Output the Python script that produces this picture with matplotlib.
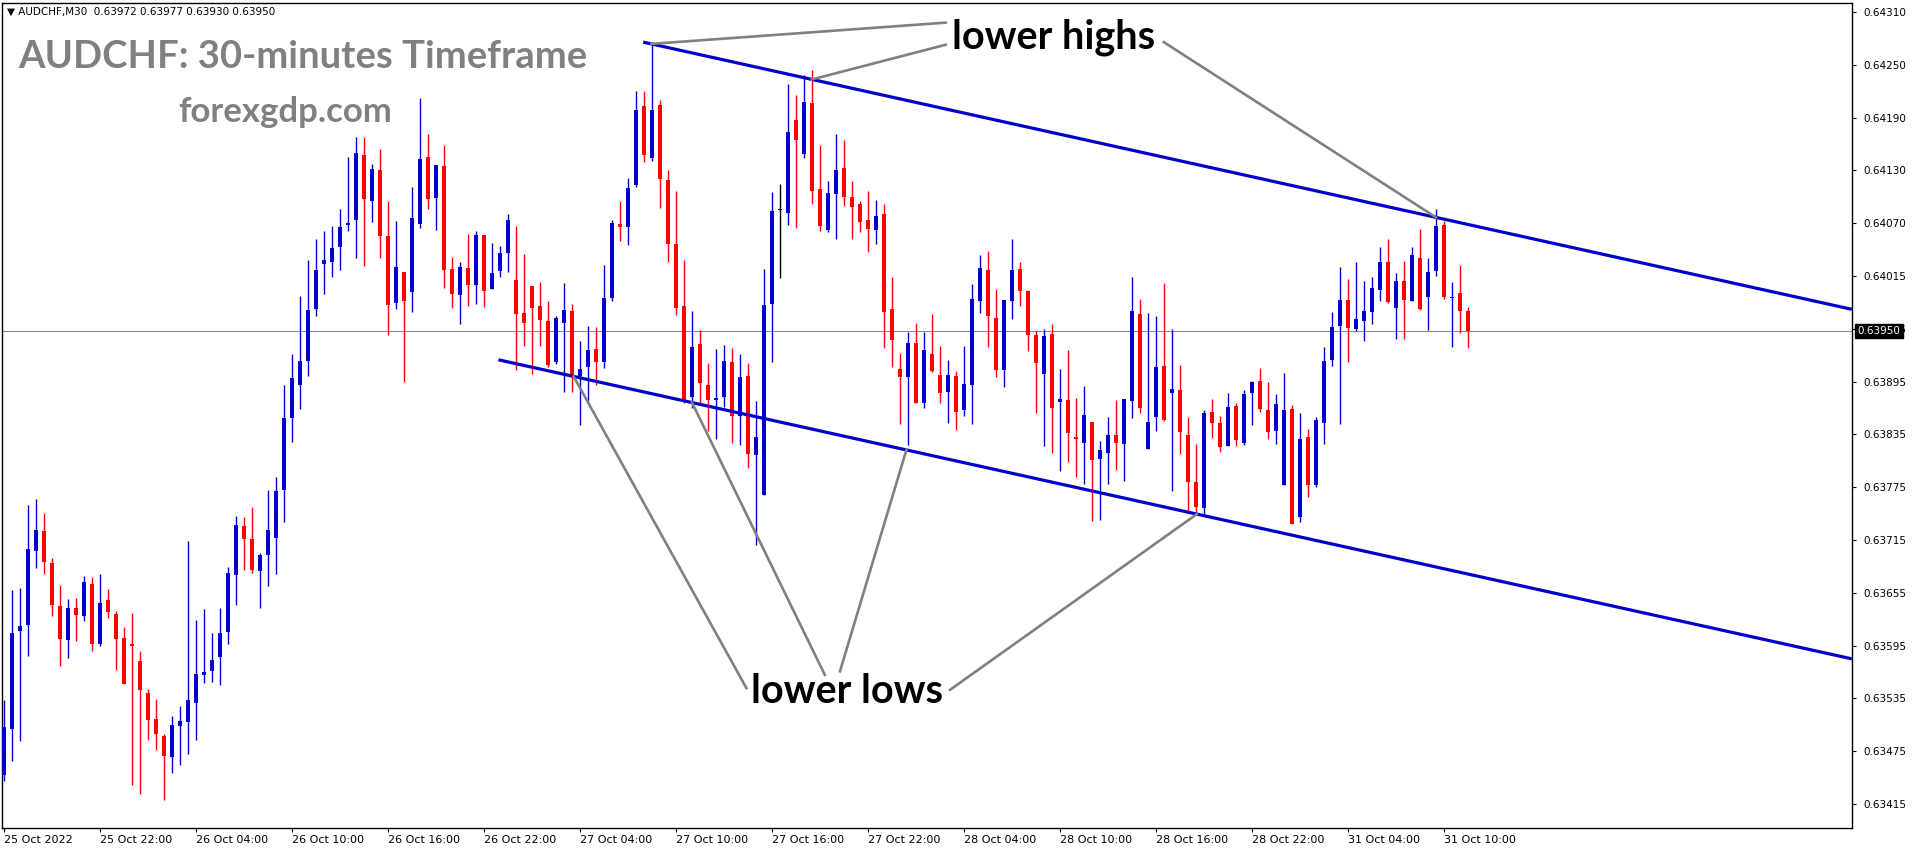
import matplotlib
matplotlib.use("Agg")
import matplotlib.pyplot as plt
import numpy as np

# AUDCHF M30 candles (bar 0 = 25 Oct 16:00)
opens = [
    0.63448, 0.63500, 0.63611, 0.63617, 0.63701, 0.63724, 0.63687, 0.63639, 0.63600, 0.63637,
    0.63628, 0.63664, 0.63596, 0.63646, 0.63630, 0.63603, 0.63596, 0.63577, 0.63541, 0.63511,
    0.63492, 0.63468, 0.63503, 0.63508, 0.63529, 0.63561, 0.63565, 0.63581, 0.63609, 0.63674,
    0.63729, 0.63715, 0.63678, 0.63696, 0.63716, 0.63770, 0.63851, 0.63889, 0.63916, 0.63974,
    0.64025, 0.64027, 0.64044, 0.64069, 0.64075, 0.64148, 0.64097, 0.64132, 0.64057, 0.63981,
    0.64016, 0.63994, 0.64071, 0.64146, 0.64100, 0.64136, 0.64020, 0.63990, 0.64021, 0.64002,
    0.64058, 0.63997, 0.64017, 0.64038, 0.64007, 0.63970, 0.64000, 0.63978, 0.63961, 0.63914,
    0.63959, 0.63972, 0.63899, 0.63909, 0.63929, 0.63914, 0.63987, 0.64070, 0.64067, 0.64115,
    0.64204, 0.64145, 0.64205, 0.64120, 0.64048, 0.63978, 0.63875, 0.63935, 0.63888, 0.63872,
    0.63875, 0.63914, 0.63854, 0.63899, 0.63809, 0.63764, 0.63980, 0.64086, 0.64083, 0.64188,
    0.64150, 0.64207, 0.64110, 0.64064, 0.64104, 0.64134, 0.64101, 0.64093, 0.64075, 0.64064,
    0.64082, 0.63974, 0.63907, 0.63898, 0.63936, 0.63868, 0.63924, 0.63900, 0.63881, 0.63899,
    0.63860, 0.63888, 0.63984, 0.64019, 0.63964, 0.63906, 0.63984, 0.64020, 0.63995, 0.63945,
    0.63901, 0.63946, 0.63869, 0.63872, 0.63830, 0.63823, 0.63847, 0.63805, 0.63812, 0.63832,
    0.63822, 0.63871, 0.63969, 0.63816, 0.63852, 0.63910, 0.63880, 0.63883, 0.63832, 0.63779,
    0.63750, 0.63858, 0.63846, 0.63820, 0.63865, 0.63823, 0.63879, 0.63893, 0.63860, 0.63836,
    0.63775, 0.63861, 0.63739, 0.63830, 0.63775, 0.63846, 0.63917, 0.63955, 0.63985, 0.63952,
    0.63961, 0.63971, 0.63996, 0.64028, 0.63976, 0.64006, 0.63984, 0.64032, 0.63988, 0.64017,
    0.64069, 0.63987, 0.63993, 0.63972,
]
highs = [
    0.63532, 0.63657, 0.63659, 0.63753, 0.63760, 0.63744, 0.63693, 0.63663, 0.63647, 0.63648,
    0.63673, 0.63672, 0.63675, 0.63658, 0.63633, 0.63615, 0.63631, 0.63588, 0.63545, 0.63534,
    0.63494, 0.63514, 0.63526, 0.63712, 0.63623, 0.63635, 0.63608, 0.63637, 0.63683, 0.63741,
    0.63739, 0.63751, 0.63699, 0.63770, 0.63784, 0.63889, 0.63924, 0.63989, 0.64030, 0.64053,
    0.64062, 0.64068, 0.64087, 0.64146, 0.64169, 0.64169, 0.64138, 0.64155, 0.64096, 0.64074,
    0.64016, 0.64112, 0.64213, 0.64172, 0.64137, 0.64160, 0.64033, 0.64028, 0.64059, 0.64063,
    0.64058, 0.64049, 0.64046, 0.64082, 0.64068, 0.64037, 0.64000, 0.64005, 0.63984, 0.63967,
    0.64004, 0.63980, 0.63938, 0.63955, 0.63954, 0.64024, 0.64075, 0.64097, 0.64122, 0.64221,
    0.64221, 0.64275, 0.64211, 0.64131, 0.64108, 0.64030, 0.63972, 0.63951, 0.63913, 0.63929,
    0.63934, 0.63930, 0.63923, 0.63913, 0.63871, 0.64020, 0.64107, 0.64116, 0.64229, 0.64216,
    0.64239, 0.64244, 0.64160, 0.64119, 0.64172, 0.64165, 0.64119, 0.64097, 0.64108, 0.64098,
    0.64093, 0.64011, 0.63925, 0.63948, 0.63959, 0.63948, 0.63969, 0.63933, 0.63917, 0.63904,
    0.63933, 0.64003, 0.64035, 0.64040, 0.63997, 0.63985, 0.64054, 0.64028, 0.63996, 0.63950,
    0.63952, 0.63958, 0.63907, 0.63928, 0.63874, 0.63887, 0.63847, 0.63825, 0.63852, 0.63872,
    0.63873, 0.64010, 0.63986, 0.63970, 0.63967, 0.64004, 0.63952, 0.63911, 0.63852, 0.63822,
    0.63860, 0.63873, 0.63853, 0.63880, 0.63868, 0.63883, 0.63893, 0.63908, 0.63892, 0.63878,
    0.63902, 0.63866, 0.63857, 0.63839, 0.63852, 0.63932, 0.63971, 0.64022, 0.64008, 0.64028,
    0.64006, 0.64011, 0.64045, 0.64054, 0.64015, 0.64029, 0.64045, 0.64065, 0.64032, 0.64087,
    0.64074, 0.64005, 0.64024, 0.63977,
]
lows = [
    0.63441, 0.63464, 0.63486, 0.63582, 0.63682, 0.63675, 0.63628, 0.63571, 0.63580, 0.63599,
    0.63622, 0.63588, 0.63594, 0.63625, 0.63566, 0.63551, 0.63436, 0.63426, 0.63487, 0.63476,
    0.63420, 0.63450, 0.63459, 0.63472, 0.63487, 0.63552, 0.63553, 0.63549, 0.63596, 0.63640,
    0.63680, 0.63676, 0.63637, 0.63661, 0.63675, 0.63734, 0.63824, 0.63861, 0.63899, 0.63966,
    0.63991, 0.64010, 0.64018, 0.64062, 0.64032, 0.64023, 0.64073, 0.64032, 0.63945, 0.63974,
    0.63892, 0.63971, 0.64066, 0.64087, 0.64064, 0.63998, 0.63976, 0.63958, 0.63978, 0.63980,
    0.63977, 0.63997, 0.64011, 0.64016, 0.63906, 0.63933, 0.63901, 0.63933, 0.63909, 0.63912,
    0.63881, 0.63881, 0.63843, 0.63871, 0.63889, 0.63908, 0.63983, 0.64051, 0.64047, 0.64112,
    0.64141, 0.64142, 0.64088, 0.64028, 0.63968, 0.63868, 0.63862, 0.63868, 0.63836, 0.63828,
    0.63864, 0.63823, 0.63821, 0.63795, 0.63708, 0.63764, 0.63914, 0.64009, 0.64069, 0.64066,
    0.64145, 0.64093, 0.64062, 0.64061, 0.64053, 0.64091, 0.64053, 0.64061, 0.64039, 0.64048,
    0.63930, 0.63909, 0.63845, 0.63821, 0.63868, 0.63863, 0.63903, 0.63868, 0.63846, 0.63838,
    0.63854, 0.63845, 0.63970, 0.63932, 0.63897, 0.63886, 0.63963, 0.63978, 0.63927, 0.63857,
    0.63820, 0.63812, 0.63791, 0.63802, 0.63784, 0.63777, 0.63735, 0.63736, 0.63777, 0.63792,
    0.63780, 0.63851, 0.63857, 0.63816, 0.63837, 0.63848, 0.63769, 0.63810, 0.63745, 0.63744,
    0.63742, 0.63829, 0.63813, 0.63820, 0.63820, 0.63821, 0.63843, 0.63858, 0.63827, 0.63822,
    0.63775, 0.63731, 0.63734, 0.63762, 0.63773, 0.63822, 0.63910, 0.63845, 0.63915, 0.63950,
    0.63938, 0.63958, 0.63984, 0.63981, 0.63940, 0.63941, 0.63984, 0.63973, 0.63951, 0.64012,
    0.63986, 0.63932, 0.63947, 0.63930,
]
closes = [
    0.63502, 0.63608, 0.63616, 0.63703, 0.63725, 0.63689, 0.63640, 0.63601, 0.63636, 0.63629,
    0.63666, 0.63596, 0.63642, 0.63632, 0.63601, 0.63551, 0.63594, 0.63544, 0.63510, 0.63494,
    0.63469, 0.63504, 0.63509, 0.63533, 0.63562, 0.63564, 0.63578, 0.63608, 0.63676, 0.63730,
    0.63715, 0.63679, 0.63696, 0.63725, 0.63769, 0.63851, 0.63896, 0.63916, 0.63973, 0.64019,
    0.64030, 0.64043, 0.64067, 0.64072, 0.64151, 0.64099, 0.64133, 0.64057, 0.63979, 0.64022,
    0.63984, 0.64077, 0.64144, 0.64099, 0.64137, 0.64018, 0.63991, 0.64022, 0.64001, 0.64058,
    0.63995, 0.64015, 0.64038, 0.64075, 0.63969, 0.63959, 0.63976, 0.63962, 0.63911, 0.63964,
    0.63973, 0.63899, 0.63907, 0.63928, 0.63915, 0.63987, 0.64072, 0.64067, 0.64111, 0.64199,
    0.64148, 0.64199, 0.64121, 0.64048, 0.63975, 0.63871, 0.63932, 0.63891, 0.63872, 0.63873,
    0.63916, 0.63854, 0.63898, 0.63810, 0.63830, 0.63979, 0.64085, 0.64086, 0.64174, 0.64165,
    0.64208, 0.64108, 0.64068, 0.64106, 0.64132, 0.64101, 0.64090, 0.64073, 0.64065, 0.64080,
    0.63971, 0.63939, 0.63898, 0.63936, 0.63868, 0.63928, 0.63904, 0.63880, 0.63900, 0.63858,
    0.63890, 0.63986, 0.64021, 0.63967, 0.63906, 0.63985, 0.64019, 0.63995, 0.63945, 0.63913,
    0.63944, 0.63863, 0.63873, 0.63834, 0.63827, 0.63855, 0.63804, 0.63815, 0.63832, 0.63823,
    0.63873, 0.63972, 0.63863, 0.63847, 0.63909, 0.63849, 0.63884, 0.63835, 0.63779, 0.63751,
    0.63857, 0.63846, 0.63819, 0.63864, 0.63826, 0.63878, 0.63892, 0.63861, 0.63835, 0.63867,
    0.63860, 0.63732, 0.63828, 0.63776, 0.63849, 0.63916, 0.63954, 0.63985, 0.63953, 0.63963,
    0.63972, 0.63998, 0.64028, 0.63982, 0.64006, 0.63985, 0.64035, 0.63974, 0.64016, 0.64068,
    0.63988, 0.63988, 0.63972, 0.63950,
]

date_labels = [
    "25 Oct 2022", "25 Oct 22:00", "26 Oct 04:00", "26 Oct 10:00", "26 Oct 16:00",
    "26 Oct 22:00", "27 Oct 04:00", "27 Oct 10:00", "27 Oct 16:00", "27 Oct 22:00",
    "28 Oct 04:00", "28 Oct 10:00", "28 Oct 16:00", "28 Oct 22:00", "31 Oct 04:00",
    "31 Oct 10:00",
]
price_labels = [
    "0.64310", "0.64250", "0.64190", "0.64130", "0.64070", "0.64015", "0.63955", "0.63895",
    "0.63835", "0.63775", "0.63715", "0.63655", "0.63595", "0.63535", "0.63475", "0.63415",
]
last_price = 0.63950
header = "\u25bc AUDCHF,M30  0.63972 0.63977 0.63930 0.63950"

# channel lines: (bar, price) at both ends
upper_line = [(79.9, 0.64276), (231.0, 0.63974)]
lower_line = [(61.8, 0.63917), (231.0, 0.63579)]
high_touch_bars = [80.9, 101.0, 179.0]
low_touch_bars = [71.2, 86.0, 112.8, 149.1]

BLUE = "#0000cd"
RED = "#ff0000"
GRAY = "#808080"


def line_price(line, bar):
    (x0, y0), (x1, y1) = line
    return y0 + (y1 - y0) * (bar - x0) / (x1 - x0)


fig = plt.figure(figsize=(19.16, 8.5), dpi=100)
fig.patch.set_facecolor("white")
ax = fig.add_axes([2 / 1916, 22 / 850, 1850 / 1916, 825 / 850])

o = np.array(opens)
h = np.array(highs)
l = np.array(lows)
c = np.array(closes)
x = np.arange(len(o))
colors = np.where(c > o, BLUE, np.where(c < o, RED, "black"))

# candles
ax.vlines(x, l, h, colors=colors, linewidth=1.0, zorder=2)
ax.bar(x, np.maximum(np.abs(c - o), 0.000015), bottom=np.minimum(o, c),
       width=0.62, color=colors, linewidth=0, zorder=3)

# bid line
ax.axhline(last_price, color="#7f8a96", linewidth=0.8, zorder=1)

# channel
for line in (upper_line, lower_line):
    ax.plot([p[0] for p in line], [p[1] for p in line], color=BLUE,
            linewidth=2.3, solid_capstyle="butt", zorder=4)

# pointer lines from the labels to the touches
hi_starts = [(117.7, 0.64298), (117.7, 0.64273), (144.97, 0.64276)]
for (sx, sy), bar in zip(hi_starts, high_touch_bars):
    ax.plot([sx, bar], [sy, line_price(upper_line, bar)], color=GRAY, linewidth=1.9, zorder=5)
lo_starts = [(92.8, 0.63546), (102.6, 0.63561), (104.5, 0.63565), (118.25, 0.63544)]
for (sx, sy), bar in zip(lo_starts, low_touch_bars):
    ax.plot([sx, bar], [sy, line_price(lower_line, bar)], color=GRAY, linewidth=1.9, zorder=5)

ax.text(131.25, 0.64269, "lower highs", fontsize=28.5, fontweight="bold", family="Lato",
        ha="center", va="baseline", color="black", zorder=6)
ax.text(105.4, 0.63529, "lower lows", fontsize=28.5, fontweight="bold", family="Lato",
        ha="center", va="baseline", color="black", zorder=6)

# axes limits & ticks
ax.set_xlim(-0.25, 231.0)
ax.set_ylim(0.633879, 0.643202)
ax.yaxis.tick_right()
ax.set_yticks(np.linspace(0.64310, 0.63415, len(price_labels)))
ax.set_yticklabels(price_labels)
ax.set_xticks(np.arange(len(date_labels)) * 12)
ax.set_xticklabels(date_labels, ha="left")
ax.tick_params(axis="y", direction="out", length=3, width=0.8, labelsize=7.5, pad=5)
ax.tick_params(axis="x", direction="out", length=3, width=0.8, labelsize=8, pad=2)
for spine in ax.spines.values():
    spine.set_color("black")
    spine.set_linewidth(1.0)

# current price tag, drawn over the tick label it covers (as on the terminal)
ax.annotate(f"{last_price:.5f}", xy=(1.0, last_price), xycoords=("axes fraction", "data"),
            xytext=(4, 0), textcoords="offset points", ha="left", va="center",
            fontsize=7.5, color="white",
            bbox=dict(boxstyle="square,pad=0.2", fc="black", ec="black"), zorder=10,
            annotation_clip=False)

# watermark texts
fig.text(7 / 1916, 1 - 12 / 850, header, fontsize=7.5, va="center", ha="left")
fig.text(18 / 1916, 1 - 68 / 850, "AUDCHF: 30-minutes Timeframe", fontsize=27.5,
         fontweight="bold", family="Lato", color=GRAY, va="baseline", ha="left")
fig.text(178 / 1916, 1 - 122 / 850, "forexgdp.com", fontsize=25,
         fontweight="bold", family="Lato", color=GRAY, va="baseline", ha="left")

fig.savefig("out.png", dpi=100, facecolor="white")
